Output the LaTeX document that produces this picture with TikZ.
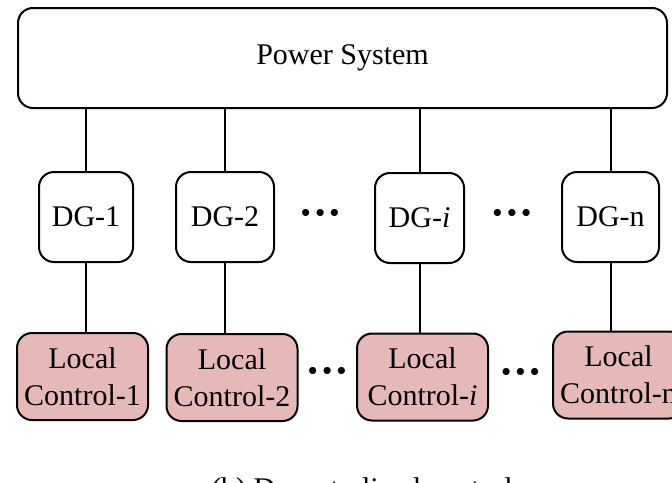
\documentclass[tikz,border=0pt]{standalone}
\usepackage{fontspec}
\setmainfont{Liberation Serif}
\usetikzlibrary{positioning,calc}
\definecolor{ctrlpink}{HTML}{E6B9B8}
\tikzset{blk/.style={draw, rounded corners=7.5pt, line width=1pt,
                     fill=white, font=\fontsize{15}{18.5}\selectfont},
         dgbox/.style={blk, minimum width=47pt, minimum height=45pt,
                       inner sep=0pt},
         ctrlbox/.style={blk, fill=ctrlpink, align=center,
                         minimum width=65.5pt, minimum height=43.5pt,
                         inner sep=2pt},
         wire/.style={line width=1pt},
         gap/.style={inner sep=0pt, font=\fontsize{9}{11}\selectfont}}
\newcommand{\tridots}{$\bullet\mkern1mu\bullet\mkern1mu\bullet$}

\begin{document}
\begin{tikzpicture}[x=0.5pt, y=-0.5pt]
        \useasboundingbox (0,0) rectangle (672,482);
        % top block
        \node[blk, minimum width=324.5pt, minimum height=50pt] (ps) at (342.5,58) {Power System};

        \node[dgbox] (dg1) at (86,217) {DG-1};
        \node[dgbox, minimum width=49pt] (dg2) at (225,217) {DG-2};
        \node[dgbox, minimum width=44.5pt] (dgi) at (419.5,218) {DG-\textit{i}};
        \node[dgbox, minimum width=48.5pt] (dgn) at (610.5,217) {DG-n};

        % local controllers
        \node[ctrlbox] (lc1) at (82.5,376.5) {Local\\Control-1};
        \node[ctrlbox] (lc2) at (232,377.5) {Local\\Control-2};
        \node[ctrlbox] (lci) at (422.5,377) {Local\\Control-\textit{i}};
        \node[ctrlbox] (lcn) at (618.5,375) {Local\\Control-n};

        \node[gap] (d1) at ($(dg2)!0.5!(dgi) + (-2,-4)$) {\tridots};
        \node[gap] (d2) at ($(dgi)!0.5!(dgn) + (-3,-4)$) {\tridots};
        \node[gap] (d3) at ($(lc2)!0.5!(lci) + (0,-6)$) {\tridots};
        \node[gap] (d4) at ($(lci)!0.5!(lcn) + (0,-4)$) {\tridots};

        \draw[wire] (dg1.north) -- (dg1.north |- ps.south);
        \draw[wire] (dg2.north) -- (dg2.north |- ps.south);
        \draw[wire] (dgi.north) -- (dgi.north |- ps.south);
        \draw[wire] (dgn.north) -- (dgn.north |- ps.south);

        \draw[wire] (dg1.south) -- (dg1.south |- lc1.north);
        \draw[wire] (dg2.south) -- (dg2.south |- lc2.north);
        \draw[wire] (dgi.south) -- (dgi.south |- lci.north);
        \draw[wire] (dgn.south) -- (dgn.south |- lcn.north);

        \node[anchor=base, font=\fontsize{15}{18}\selectfont] (cap) at (362,498) {(b) Decentralized control};
\end{tikzpicture}
\end{document}
